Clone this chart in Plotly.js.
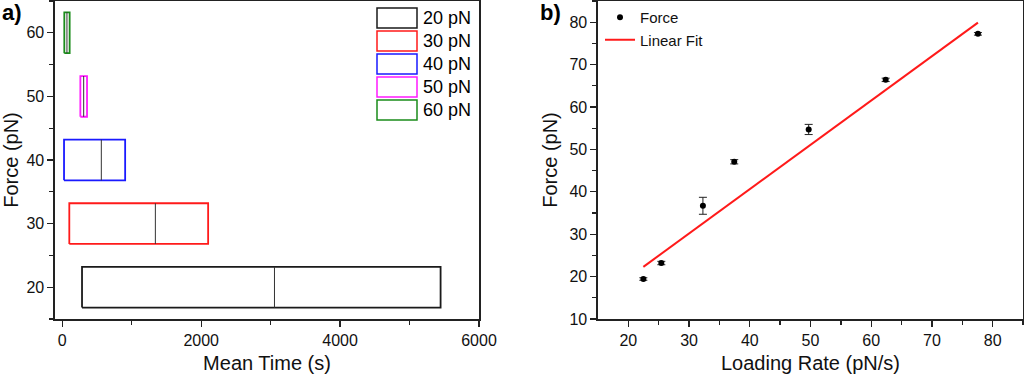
<!DOCTYPE html>
<html><head><meta charset="utf-8">
<script src="https://cdn.plot.ly/plotly-3.0.1.min.js"></script>
<style>html,body{margin:0;padding:0;background:#fff}#chart{width:1024px;height:378px}</style>
</head><body><div id="chart"></div>
<script>
// Panel a) box data (Mean Time, s)
var forceLevels = [20, 30, 40, 50, 60];
var boxLabels = ['20 pN', '30 pN', '40 pN', '50 pN', '60 pN'];
var timeQ1 = [284, 101, 25, 260, 29];
var timeMedian = [3055, 1340, 562, 308, 67];
var timeQ3 = [5447, 2100, 905, 356, 106];
var boxColors = ['#1a1a1a', '#ff1a1a', '#1a1aff', '#ff1aff', '#1a8c1a'];

// Panel b) data
var loadingRate = [22.47, 25.43, 32.28, 37.44, 49.7, 62.38, 77.58];
var ruptureForce = [19.43, 23.2, 36.7, 47.08, 54.7, 66.4, 77.25];
var forceErr = [0.3, 0.4, 2.0, 0.5, 1.2, 0.4, 0.3];
var fitRate = [22.47, 77.58];
var fitForce = [22.3, 79.9];

var HALF = 3.2; // half box height in pN
var FONT = 'Liberation Sans, Arial, sans-serif';
var traces = [];
for (var i = 0; i < forceLevels.length; i++) {
  var f = forceLevels[i];
  traces.push({
    type: 'scatter', mode: 'lines', xaxis: 'x', yaxis: 'y', showlegend: false,
    x: [timeQ1[i], timeQ3[i], timeQ3[i], timeQ1[i], timeQ1[i]],
    y: [f - HALF, f - HALF, f + HALF, f + HALF, f - HALF],
    fill: 'toself', fillcolor: 'rgba(255,255,255,0)',
    line: {color: boxColors[i], width: 1.8}, hoverinfo: 'skip'
  });
  traces.push({
    type: 'scatter', mode: 'lines', xaxis: 'x', yaxis: 'y', showlegend: false,
    x: [timeMedian[i], timeMedian[i]], y: [f - HALF, f + HALF],
    line: {color: '#333', width: 1}, hoverinfo: 'skip'
  });
}
traces.push({
  type: 'scatter', mode: 'markers', name: 'Force', xaxis: 'x2', yaxis: 'y2',
  x: loadingRate, y: ruptureForce,
  marker: {color: '#000', size: 6},
  error_y: {type: 'data', array: forceErr, visible: true, color: '#222', thickness: 1, width: 4}
});
traces.push({
  type: 'scatter', mode: 'lines', name: 'Linear Fit', xaxis: 'x2', yaxis: 'y2',
  x: fitRate, y: fitForce, line: {color: '#ff1a1a', width: 2}
});

var ML = 55, MR = 1, W = 1024, MT = 1, MB = 59, H = 378;
var PW = W - ML - MR, PH = H - MT - MB;
function px(x) { return (x - ML) / PW; }
function py(y) { return (H - MB - y) / PH; }

var shapes = [], annotations = [];
for (var j = 0; j < boxLabels.length; j++) {
  var rowTop = 8 + 23 * j;
  shapes.push({type: 'rect', xref: 'paper', yref: 'paper',
    x0: px(377), x1: px(417), y0: py(rowTop + 20), y1: py(rowTop),
    line: {color: boxColors[j], width: 1.5}, fillcolor: 'rgba(0,0,0,0)'});
  annotations.push({xref: 'paper', yref: 'paper', x: px(421), y: py(rowTop + 10),
    xanchor: 'left', yanchor: 'middle', text: boxLabels[j], showarrow: false,
    font: {family: FONT, size: 18, color: '#000'}});
}
annotations.push({xref: 'paper', yref: 'paper', x: px(0), y: py(13), xanchor: 'left', yanchor: 'middle',
  text: '<b>a)</b>', showarrow: false, font: {family: FONT, size: 22, color: '#000'}});
annotations.push({xref: 'paper', yref: 'paper', x: px(538), y: py(13), xanchor: 'left', yanchor: 'middle',
  text: '<b>b)</b>', showarrow: false, font: {family: FONT, size: 22, color: '#000'}});

var axCommon = {
  showgrid: false, zeroline: false, showline: true, linecolor: '#222', linewidth: 1.6,
  mirror: true, ticks: 'outside', ticklen: 6, tickwidth: 1.3, tickcolor: '#222',
  tickfont: {family: FONT, size: 16, color: '#111'}
};
function ax(extra) { var o = {}; for (var k in axCommon) o[k] = axCommon[k]; for (var k2 in extra) o[k2] = extra[k2]; return o; }

var layout = {
  width: W, height: H, margin: {l: ML, r: MR, t: MT, b: MB},
  paper_bgcolor: '#fff', plot_bgcolor: '#fff', showlegend: true,
  xaxis: ax({domain: [0, px(479)], range: [-105, 6000], tickvals: [0, 2000, 4000, 6000],
    minor: {tickvals: [1000, 3000, 5000], ticklen: 4, tickwidth: 1.3, tickcolor: '#222', ticks: 'outside'},
    title: {text: 'Mean Time (s)', font: {family: FONT, size: 20, color: '#111'}, standoff: 8}}),
  yaxis: ax({domain: [0, 1], range: [15, 65], tickvals: [20, 30, 40, 50, 60],
    minor: {tickvals: [15, 25, 35, 45, 55, 65], ticklen: 4, tickwidth: 1.3, tickcolor: '#222', ticks: 'outside'},
    title: {text: 'Force (pN)', font: {family: FONT, size: 20, color: '#111'}, standoff: 6}}),
  xaxis2: ax({domain: [px(598), 1], range: [15, 85], anchor: 'y2', tickvals: [20, 30, 40, 50, 60, 70, 80],
    minor: {tickvals: [25, 35, 45, 55, 65, 75, 85], ticklen: 4, tickwidth: 1.3, tickcolor: '#222', ticks: 'outside'},
    title: {text: 'Loading Rate (pN/s)', font: {family: FONT, size: 20, color: '#111'}, standoff: 8}}),
  yaxis2: ax({domain: [0, 1], range: [10, 85], anchor: 'x2', tickvals: [10, 20, 30, 40, 50, 60, 70, 80],
    minor: {tickvals: [15, 25, 35, 45, 55, 65, 75, 85], ticklen: 4, tickwidth: 1.3, tickcolor: '#222', ticks: 'outside'},
    title: {text: 'Force (pN)', font: {family: FONT, size: 20, color: '#111'}, standoff: 6}}),
  legend: {x: px(600), y: 1, xanchor: 'left', yanchor: 'top', bgcolor: 'rgba(0,0,0,0)',
    font: {family: FONT, size: 15, color: '#111'}, tracegroupgap: 0, itemwidth: 30},
  shapes: shapes, annotations: annotations
};
Plotly.newPlot('chart', traces, layout, {staticPlot: true, displayModeBar: false});
</script></body></html>
